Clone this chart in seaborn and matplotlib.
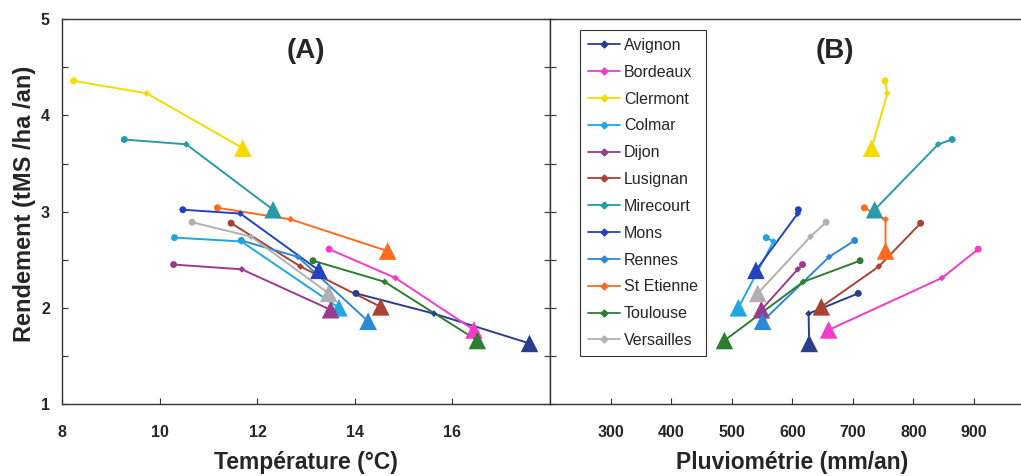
import numpy as np
import pandas as pd
import seaborn as sns
import matplotlib.pyplot as plt
from matplotlib.lines import Line2D
from matplotlib.ticker import MultipleLocator

# -------------------------------
# Data
# -------------------------------
cities = ["Avignon", "Bordeaux", "Clermont", "Colmar", "Dijon", "Lusignan",
          "Mirecourt", "Mons", "Rennes", "St Etienne", "Toulouse", "Versailles"]

colors = ["#2b3d8c", "#f03cc8", "#f5da00", "#1fa8e0", "#9a3c8e", "#a84232",
          "#2a9aa8", "#2342c0", "#2a8ad8", "#ff6a20", "#2e7d32", "#b0b0b0"]

# three points per city: circle, diamond, triangle
rendement = [
    [2.15, 1.94, 1.63], [2.61, 2.31, 1.77], [4.36, 4.23, 3.66],
    [2.73, 2.69, 2.00], [2.45, 2.40, 1.98], [2.88, 2.43, 2.01],
    [3.75, 3.70, 3.02], [3.02, 2.98, 2.39], [2.70, 2.53, 1.86],
    [3.04, 2.92, 2.59], [2.49, 2.27, 1.66], [2.89, 2.74, 2.15],
]

temperature = [
    [14.02, 15.62, 17.58], [13.47, 14.83, 16.44], [8.23, 9.73, 11.70],
    [10.30, 11.67, 13.67], [10.28, 11.68, 13.50], [11.46, 12.88, 14.53],
    [9.27, 10.54, 12.32], [10.47, 11.65, 13.26], [11.67, 12.83, 14.27],
    [11.18, 12.68, 14.67], [13.14, 14.61, 16.51], [10.66, 11.87, 13.46],
]

pluviometrie = [
    [709, 627, 628], [907, 847, 660], [753, 757, 731],
    [557, 569, 511], [617, 609, 549], [812, 743, 648],
    [864, 841, 736], [610, 609, 540], [703, 661, 551],
    [719, 754, 754], [712, 618, 488], [656, 630, 543],
]

temp_ticks = [8, 10, 12, 14, 16]
pluvio_ticks = [300, 400, 500, 600, 700, 800, 900]
y_ticks = [1, 2, 3, 4, 5]

# -------------------------------
# Long-form table
# -------------------------------
rows = []
for i, city in enumerate(cities):
    for stage in range(3):
        rows.append({"Ville": city, "Etape": stage,
                     "Rendement": rendement[i][stage],
                     "Temperature": temperature[i][stage],
                     "Pluvio": pluviometrie[i][stage]})
df = pd.DataFrame(rows)
palette = dict(zip(cities, colors))

stage_markers = ["o", "D", "^"]
stage_sizes = [25, 12, 160]

sns.set_style("ticks")
plt.rcParams["font.family"] = ["Liberation Sans", "DejaVu Sans"]


def draw_panel(ax, x_col):
    sns.lineplot(data=df, x=x_col, y="Rendement", hue="Ville", palette=palette,
                 sort=False, estimator=None, lw=1.4, legend=False, ax=ax)
    for stage, (marker, size) in enumerate(zip(stage_markers, stage_sizes)):
        sub = df[df["Etape"] == stage]
        sns.scatterplot(data=sub, x=x_col, y="Rendement", hue="Ville",
                        palette=palette, marker=marker, s=size, linewidth=0,
                        legend=False, ax=ax, zorder=3)
    ax.set_ylim(1, 5)
    ax.set_yticks(y_ticks)
    ax.yaxis.set_minor_locator(MultipleLocator(0.5))
    ax.tick_params(which="both", direction="in", length=4, width=0.8,
                   color="#333333", labelsize=11.5, pad=9)
    for lab in ax.get_xticklabels() + ax.get_yticklabels():
        lab.set_fontweight("bold")
    for sp in ax.spines.values():
        sp.set_visible(True)
        sp.set_color("#333333")
        sp.set_linewidth(1.0)


W, H = 1021, 476
fig = plt.figure(figsize=(W / 100, H / 100), dpi=100)
axA = fig.add_axes([62.4 / W, 72 / H, 487.6 / W, 384.7 / H])
axB = fig.add_axes([550 / W, 72 / H, 484.5 / W, 384.7 / H])

# Panel A
draw_panel(axA, "Temperature")
axA.set_xlim(8, 18)
axA.set_xticks(temp_ticks)
axA.tick_params(axis="x", pad=15)
axA.tick_params(axis="y", which="both", right=True)
for lab in axA.get_xticklabels():
    lab.set_fontweight("bold")
axA.set_xlabel("Température (°C)", fontsize=16.5, fontweight="bold", labelpad=8)
axA.set_ylabel("Rendement (tMS /ha /an)", fontsize=17, fontweight="bold")
axA.yaxis.set_label_coords(-0.054, 0.52)
axA.text(0.5, 0.917, "(A)", transform=axA.transAxes, ha="center",
         va="center", fontsize=20, fontweight="bold")

# Panel B
draw_panel(axB, "Pluvio")
axB.set_xlim(200, 1000)
axB.set_xticks(pluvio_ticks)
axB.tick_params(axis="x", pad=15)
axB.tick_params(axis="y", which="both", labelleft=False)
for lab in axB.get_xticklabels():
    lab.set_fontweight("bold")
axB.set_xlabel("Pluviométrie (mm/an)", fontsize=16.5, fontweight="bold", labelpad=8)
axB.set_ylabel("")
axB.text(0.588, 0.917, "(B)", transform=axB.transAxes, ha="center",
         va="center", fontsize=20, fontweight="bold")

handles = [Line2D([], [], color=c, lw=1.3, marker="D", ms=3.5) for c in colors]
leg = axB.legend(handles, cities, loc="upper left",
                 bbox_to_anchor=(580 / W, (H - 30) / H),
                 bbox_transform=fig.transFigure, borderaxespad=0,
                 frameon=True, fancybox=False, edgecolor="#333333",
                 framealpha=1, fontsize=11.5, handlelength=2,
                 handletextpad=0.25, labelspacing=0.74, borderpad=0.5)
leg.get_frame().set_linewidth(0.8)

fig.savefig("out.png", dpi=100)
